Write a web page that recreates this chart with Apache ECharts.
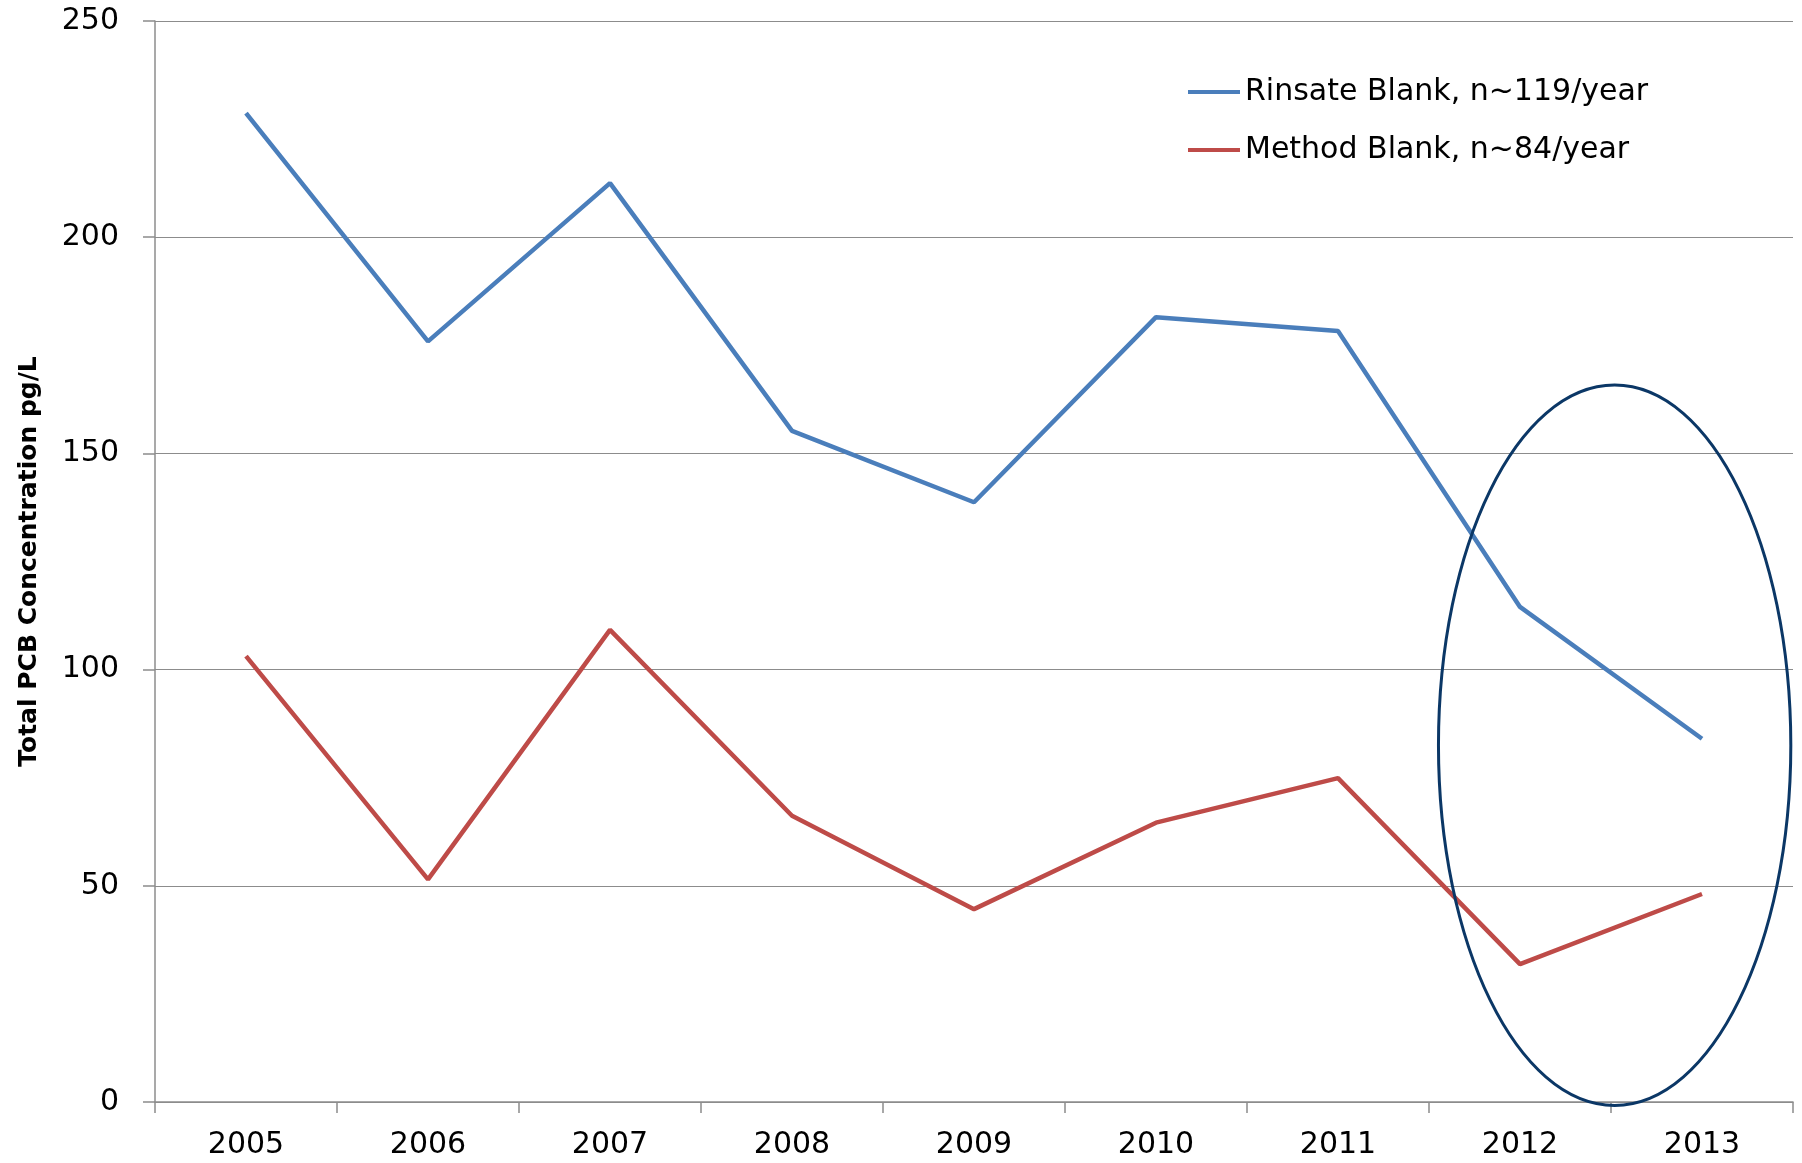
<!DOCTYPE html>
<html>
<head>
<meta charset="utf-8">
<script src="https://cdn.jsdelivr.net/npm/echarts@6/dist/echarts.min.js"></script>
<style>
  html, body { margin: 0; padding: 0; background: #fff; }
  #chart { width: 1802px; height: 1163px; }
</style>
</head>
<body>
<div id="chart"></div>
<script>
// Sampling years
const years = ['2005', '2006', '2007', '2008', '2009', '2010', '2011', '2012', '2013'];

// Mean total PCB concentration (pg/L) per year
const rinsateBlank = [228.7, 175.9, 212.5, 155.2, 138.7, 181.5, 178.3, 114.5, 84.0];
const methodBlank  = [103.1, 51.5, 109.2, 66.2, 44.6, 64.6, 74.9, 31.9, 48.1];

const seriesNames = ['Rinsate Blank, n~119/year', 'Method Blank, n~84/year'];

// Y axis range
const yMin = 0, yMax = 250, yStep = 50;

// Highlight ring around the last two years (center/radii in data units)
const ringCenterIndex = 7.52;   // between 2012 and 2013
const ringCenterValue = 82.5;
const ringHalfWidthCats = 0.968;
const ringHalfHeightValue = 83.3;

const FONT = '"DejaVu Sans", "Open Sans", sans-serif';
const chart = echarts.init(document.getElementById('chart'));

const option = {
  animation: false,
  backgroundColor: '#ffffff',
  grid: { left: 155, right: 9, top: 21, bottom: 61, containLabel: false },
  legend: {
    orient: 'vertical',
    left: 1183,
    top: 72,
    icon: 'rect',
    itemWidth: 52,
    itemHeight: 4,
    itemGap: 28,
    data: seriesNames,
    textStyle: { fontFamily: FONT, fontSize: 30, color: '#000' }
  },
  xAxis: {
    type: 'category',
    data: years,
    boundaryGap: true,
    axisLine: { lineStyle: { color: '#8c8c8c', width: 1.5 } },
    axisTick: { show: true, length: 11, alignWithLabel: false, lineStyle: { color: '#8c8c8c', width: 1.5 } },
    axisLabel: { fontFamily: FONT, fontSize: 30, color: '#000', margin: 28 },
    splitLine: { show: false }
  },
  yAxis: {
    type: 'value',
    min: yMin,
    max: yMax,
    interval: yStep,
    name: 'Total PCB Concentration pg/L',
    nameLocation: 'middle',
    nameGap: 113,
    nameRotate: 90,
    nameTextStyle: { fontFamily: FONT, fontSize: 25, fontWeight: 'bold', color: '#000' },
    axisLine: { show: true, lineStyle: { color: '#8c8c8c', width: 1.5 } },
    axisTick: { show: true, length: 12, inside: false, lineStyle: { color: '#8c8c8c', width: 1.5 } },
    axisLabel: { fontFamily: FONT, fontSize: 30, color: '#000', margin: 36 },
    splitLine: { show: true, lineStyle: { color: '#8c8c8c', width: 1.2 } }
  },
  series: [
    {
      name: seriesNames[0],
      type: 'line',
      data: rinsateBlank,
      symbol: 'none',
      lineStyle: { color: '#4a7ebb', width: 4.5 },
      itemStyle: { color: '#4a7ebb' }
    },
    {
      name: seriesNames[1],
      type: 'line',
      data: methodBlank,
      symbol: 'none',
      lineStyle: { color: '#be4b48', width: 4.5 },
      itemStyle: { color: '#be4b48' }
    }
  ]
};

chart.setOption(option);

// Draw the highlight ring using the chart's own coordinate conversion
const p0 = chart.convertToPixel({ gridIndex: 0 }, [0, ringCenterValue]);
const p1 = chart.convertToPixel({ gridIndex: 0 }, [1, ringCenterValue]);
const catW = p1[0] - p0[0];
const ringCx = p0[0] + catW * ringCenterIndex;
const ringCy = p0[1];
const ringTop = chart.convertToPixel({ gridIndex: 0 }, [0, ringCenterValue + ringHalfHeightValue])[1];
chart.setOption({
  graphic: [{
    type: 'ellipse',
    shape: { cx: ringCx, cy: ringCy, rx: catW * ringHalfWidthCats, ry: ringCy - ringTop },
    style: { fill: 'none', stroke: '#0b3766', lineWidth: 3 },
    z: 100
  }]
});
</script>
</body>
</html>
